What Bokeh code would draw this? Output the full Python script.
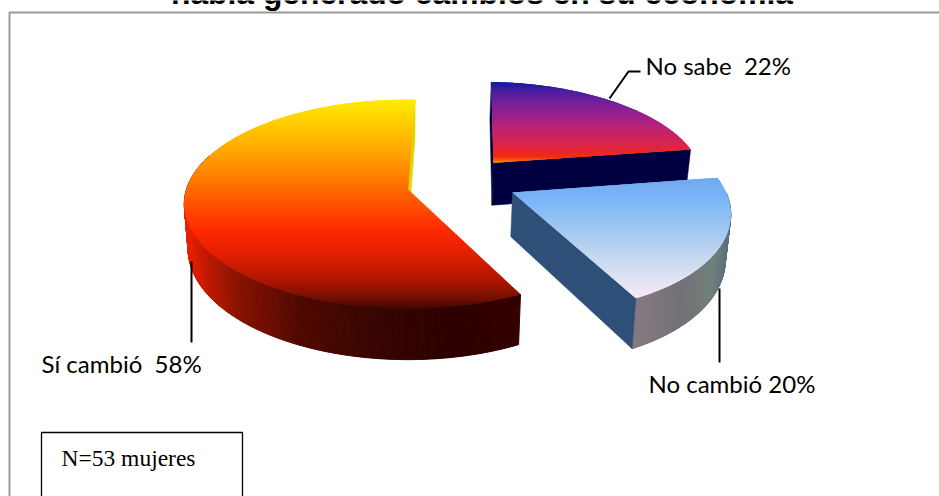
import numpy as np
from bokeh.core.properties import value
from bokeh.embed import file_html
from bokeh.models import ColumnDataSource, Range1d
from bokeh.plotting import figure
from bokeh.resources import INLINE

title_text = "había generado cambios en su economía"
categories = ["Sí cambió", "No sabe", "No cambió"]
shares = [58, 22, 20]
data_labels = ["Sí cambió\u00a0 58%", "No sabe\u00a0 22%", "No cambió 20%"]
note_text = "N=53 mujeres"

W, H = 939, 496
p = figure(width=W, height=H, output_backend="svg", toolbar_location=None,
           x_range=Range1d(0, W), y_range=Range1d(H, 0),
           x_axis_location=None, y_axis_location=None, min_border=0,
           background_fill_color="white", border_fill_color="white")
p.grid.visible = False
p.outline_line_color = None

# Perspective camera for the tilted pie disc
CX, CY = 407.5, 189.0
DIST, KY, FX = 7.2, 738.0, 1595.0
THICK, BASE_SHRINK = 44.0, 0.983


def project(x, y):
    s = DIST + y
    return CX + FX * x / s, CY - KY * y / s


def lower(sx, sy, y):
    return CX + (sx - CX) * BASE_SHRINK, sy + THICK * DIST / (DIST + y)


def ramp(stops, t):
    pos = [s[0] for s in stops]
    rgb = np.array([[int(s[1][i:i + 2], 16) for i in (1, 3, 5)] for s in stops], float)
    return "#%02x%02x%02x" % tuple(int(round(np.interp(t, pos, rgb[:, k]))) for k in range(3))


def clip_half(poly, y, keep_below):
    out = []
    n = len(poly)
    for i in range(n):
        a, b = poly[i], poly[(i + 1) % n]
        ina = a[1] >= y if keep_below else a[1] <= y
        inb = b[1] >= y if keep_below else b[1] <= y
        if ina:
            out.append(a)
        if ina != inb:
            t = (y - a[1]) / (b[1] - a[1])
            out.append((a[0] + t * (b[0] - a[0]), y))
    return out


def draw_polys(polys, colors, width=1.0):
    src = ColumnDataSource(dict(xs=[[q[0] for q in r] for r in polys],
                                ys=[[q[1] for q in r] for r in polys],
                                c=colors))
    p.patches("xs", "ys", source=src, fill_color="c", fill_alpha=1.0,
              line_color="c", line_alpha=1.0, line_width=width)


def draw_slice(a0, a1, off, radius, top_stops, wall_span, wall_stops, faces):
    """Angles run clockwise from twelve o'clock, in degrees."""
    ox, oy = off
    rx, ry = radius
    arc = np.radians(np.arange(a0, a1 + 0.01, 0.5))
    mx = ox + rx * np.sin(arc)
    my = oy + ry * np.cos(arc)
    sx, sy = project(mx, my)
    ax, ay = project(ox, oy)

    # Outer wall, one narrow strip per angular step
    if wall_span is not None:
        lo, hi = wall_span
        xmin, xmax = wall_stops[0]
        strips, cols = [], []
        for i in range(len(arc) - 1):
            deg = np.degrees(arc[i])
            if deg < lo or deg > hi:
                continue
            bx0, by0 = lower(sx[i], sy[i], my[i])
            bx1, by1 = lower(sx[i + 1], sy[i + 1], my[i + 1])
            strips.append([(sx[i], sy[i]), (sx[i + 1], sy[i + 1]), (bx1, by1), (bx0, by0)])
            cols.append(ramp(wall_stops[1], (0.5 * (sx[i] + sx[i + 1]) - xmin) / (xmax - xmin)))
        draw_polys(strips, cols)

    # Flat cut faces exposed by the tilt
    abx, aby = lower(ax, ay, oy)
    for idx, color in faces:
        ex, ey = sx[idx], sy[idx]
        bx, by = lower(ex, ey, my[idx])
        draw_polys([[(ax, ay), (ex, ey), (bx, by), (abx, aby)]], [color], 0.5)

    # Upper surface, painted downward as overlapping horizontal bands
    poly = [(ax, ay)] + list(zip(sx, sy))
    y0, y1 = int(np.floor(min(q[1] for q in poly))), int(np.ceil(max(q[1] for q in poly)))
    bands, cols = [], []
    for y in range(y0, y1):
        b = clip_half(clip_half(poly, y, True), y + 2.2, False)
        if len(b) >= 3:
            bands.append(b)
            cols.append(ramp(top_stops, (y + 0.5 - y0) / (y1 - y0)))
    src = ColumnDataSource(dict(xs=[[q[0] for q in r] for r in bands],
                                ys=[[q[1] for q in r] for r in bands], c=cols))
    p.patches("xs", "ys", source=src, fill_color="c", fill_alpha=1.0, line_color=None)


START = 153.6
sweeps = [v / 100 * 360 for v in shares]
a_yes = (START, START + sweeps[0])
a_dk = (a_yes[1] - 360, a_yes[1] - 360 + sweeps[1])
a_no = (a_dk[1], a_dk[1] + sweeps[2])

# Large slice, warm ramp
draw_slice(a_yes[0], a_yes[1], (0.0, 0.0), (1.0, 1.0),
           [(0, "#ffec00"), (0.24, "#ffa800"), (0.43, "#ff6a00"), (0.62, "#ff2a00"),
            (0.72, "#e82000"), (0.86, "#b01500"), (0.95, "#701000"), (1, "#3a0500")],
           (a_yes[0], 290),
           ((188, 520), [(0, "#e82000"), (0.05, "#c01a00"), (0.14, "#8a1200"), (0.33, "#500800"),
                         (0.6, "#340400"), (0.8, "#2c0000"), (1, "#340000")]),
           [(-1, "#d8d800")])

# Back slice, violet ramp with a navy cut face
draw_slice(a_dk[0], a_dk[1], (0.40, 0.27), (0.96, 0.96),
           [(0, "#0a1a9a"), (0.12, "#4a1f9c"), (0.3, "#7f2098"), (0.55, "#b82278"),
            (0.78, "#dc2448"), (0.92, "#f42a10"), (1, "#ff9a00")],
           None, None, [(0, "#000040"), (-1, "#000040")])

# Front slice, pale blue ramp
draw_slice(a_no[0], a_no[1], (0.47, -0.029), (0.96, 1.0),
           [(0, "#70a8f0"), (0.22, "#80b8f8"), (0.45, "#a4c8f0"), (0.65, "#c4d8f0"),
            (0.85, "#e0e4f2"), (1, "#f8e8f8")],
           (90, a_no[1]),
           ((639, 733), [(0, "#847880"), (0.45, "#747078"), (0.8, "#708078"), (1, "#566c84")]),
           [(-1, "#2e4f78")])

# Leader lines
p.line([609, 628, 640], [98, 71, 71], line_color="black", line_width=2)
p.line([191, 191], [261, 342], line_color="black", line_width=2)
p.line([719, 719], [288, 362], line_color="black", line_width=2)

# Frame around the plot area (its other sides fall outside the page)
p.line([9, 9, W], [H, 12, 12], line_color="#999999", line_width=2)

# Note box, cut by the page bottom
p.line([41, 41, 242, 242], [H + 5, 432, 432, H + 5], line_color="black", line_width=1.3)
p.text([61], [457], text=[note_text], text_font=value("Liberation Serif"),
       text_font_size="23.5px", text_color="black", text_baseline="alphabetic")

# Slice labels
p.text([41, 645, 648], [362.5, 64.5, 382.5], text=data_labels, text_font=value("Lato"),
       text_font_size="24px", text_color="black", text_baseline="alphabetic")

# Chart heading, its upper part cut by the page top
p.text([481.5], [-8], text=[title_text], text_font=value("Liberation Sans"),
       text_font_style="bold", text_font_size="31.8px", text_color="black",
       text_align="center", text_baseline="alphabetic")

open("out.html", "w").write(file_html(p, INLINE))
